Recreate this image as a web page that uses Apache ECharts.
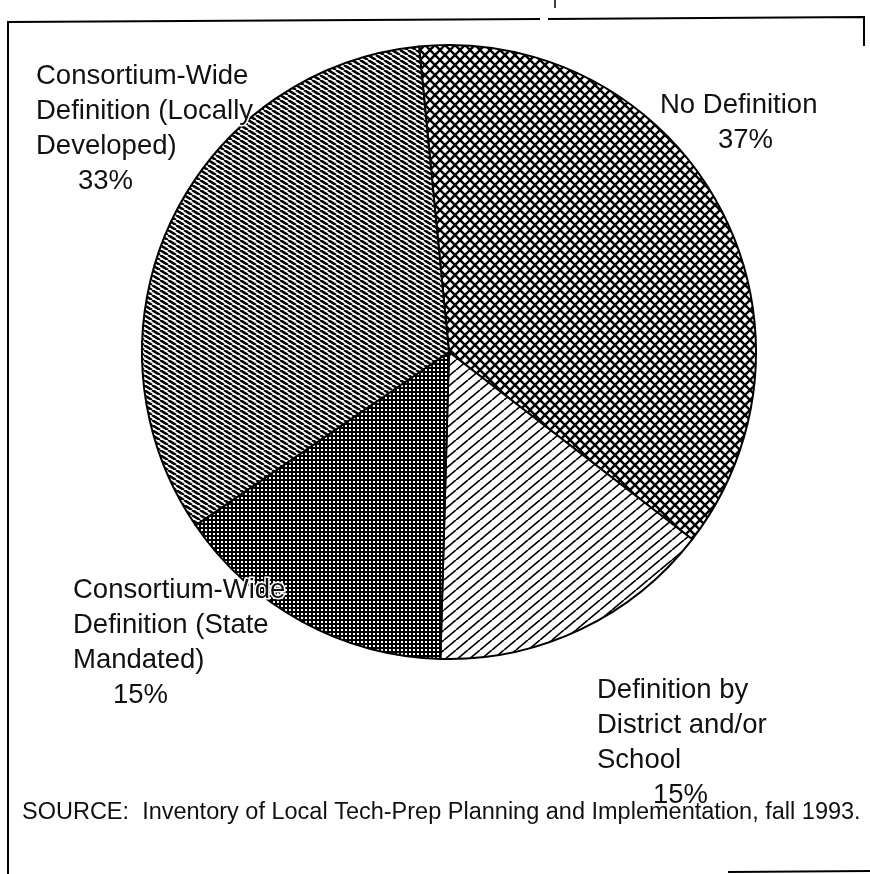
<!DOCTYPE html>
<html>
<head>
<meta charset="utf-8">
<script src="https://cdn.jsdelivr.net/npm/echarts@6/dist/echarts.min.js"></script>
<style>
  html, body { margin: 0; padding: 0; background: #fff; }
  #chart { width: 870px; height: 874px; }
</style>
</head>
<body>
<div id="chart"></div>
<script>
// slices, clockwise from the top
const categories = [
  'No Definition',
  'Definition by\nDistrict and/or\nSchool',
  'Consortium-Wide\nDefinition (State\nMandated)',
  'Consortium-Wide\nDefinition (Locally\nDeveloped)'
];
const shares = [37, 15, 15, 33];
const sourceNote = 'SOURCE:  Inventory of Local Tech-Prep Planning and Implementation, fall 1993.';

// where each label block starts (top-left) and how far the percent is pushed right
const labelPos = [[660, 88], [597, 673], [73, 573], [36, 59]];
const pctPad = [58, 56, 40, 42];

// hatch tiles
function tile(w, h, draw) {
  const c = document.createElement('canvas');
  c.width = w; c.height = h;
  const ctx = c.getContext('2d');
  ctx.fillStyle = '#fff';
  ctx.fillRect(0, 0, w, h);
  ctx.strokeStyle = '#000';
  ctx.fillStyle = '#000';
  draw(ctx, w, h);
  return c;
}
function lines(ctx, w, h, lw, up) {
  ctx.lineWidth = lw;
  for (let k = -1; k <= 1; k++) {
    ctx.beginPath();
    if (up) { ctx.moveTo(k * w, h); ctx.lineTo(k * w + w, 0); }
    else { ctx.moveTo(k * w, 0); ctx.lineTo(k * w + w, h); }
    ctx.stroke();
  }
}
const crossTile = tile(10, 10, (ctx, w, h) => { lines(ctx, w, h, 2.4, false); lines(ctx, w, h, 2.4, true); });
const slashTile = tile(12, 10, (ctx, w, h) => lines(ctx, w, h, 1.7, true));
const gridTile = tile(4, 4, (ctx, w, h) => {
  ctx.fillRect(0, 0, w, h);
  ctx.fillStyle = '#fff';
  ctx.fillRect(1, 1, 2, 2);
});
const backTile = tile(8, 5, (ctx, w, h) => lines(ctx, w, h, 2.6, false));
const fills = [crossTile, slashTile, gridTile, backTile];

const chart = echarts.init(document.getElementById('chart'));

const rich = {};
pctPad.forEach((p, i) => {
  rich['p' + i] = { fontSize: 27.5, lineHeight: 35, color: '#111', fontFamily: 'Liberation Sans', padding: [0, 0, 0, p] };
});

chart.setOption({
  animation: false,
  backgroundColor: '#fff',
  title: {
    text: sourceNote,
    left: 22,
    top: 801,
    padding: 0,
    textStyle: { fontFamily: 'Liberation Sans', fontSize: 23.5, fontWeight: 'normal', color: '#111' }
  },
  graphic: [
    // scanned frame fragments
    { type: 'polyline', shape: { points: [[8, 874], [8, 22], [540, 19]] }, style: { stroke: '#000', lineWidth: 2, fill: null } },
    { type: 'polyline', shape: { points: [[548, 19], [864, 17], [864, 46]] }, style: { stroke: '#000', lineWidth: 2, fill: null } },
    { type: 'line', shape: { x1: 555, y1: 0, x2: 555, y2: 8 }, style: { stroke: '#000', lineWidth: 1.5 } },
    { type: 'line', shape: { x1: 728, y1: 872, x2: 870, y2: 871 }, style: { stroke: '#000', lineWidth: 2 } }
  ],
  series: [{
    type: 'pie',
    center: [449, 352],
    radius: 307,
    startAngle: 95.6,
    clockwise: true,
    avoidLabelOverlap: false,
    emphasis: { disabled: true },
    itemStyle: { borderColor: '#000', borderWidth: 2 },
    label: {
      show: true,
      position: 'outside',
      fontFamily: 'Liberation Sans',
      fontSize: 27.5,
      lineHeight: 35,
      color: '#111',
      textBorderColor: '#fff',
      textBorderWidth: 3,
      align: 'left',
      formatter: p => p.name + '\n{p' + p.dataIndex + '|' + p.value + '%}',
      rich: rich
    },
    labelLine: { show: false },
    labelLayout: params => ({
      x: labelPos[params.dataIndex][0],
      y: labelPos[params.dataIndex][1],
      align: 'left',
      verticalAlign: 'top'
    }),
    data: categories.map((name, i) => ({
      name: name,
      value: shares[i],
      itemStyle: { color: { image: fills[i], repeat: 'repeat' } }
    }))
  }]
});
</script>
</body>
</html>
